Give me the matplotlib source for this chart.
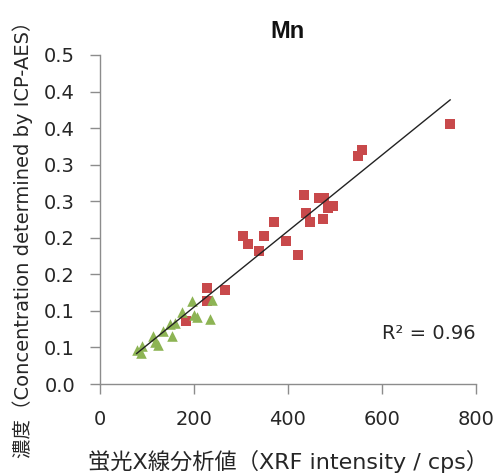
import numpy as np
import matplotlib
matplotlib.use('Agg')
import matplotlib.pyplot as plt

plt.rcParams['font.family'] = ['DejaVu Sans', 'Noto Sans CJK JP']

# red squares
red_x = [182, 227, 227, 267, 305, 314, 338, 348, 370, 396, 421, 433, 438, 446,
         466, 476, 486, 495, 474, 548, 557, 745]
red_y = [0.086, 0.131, 0.114, 0.128, 0.202, 0.191, 0.182, 0.203, 0.221, 0.195,
         0.176, 0.259, 0.234, 0.222, 0.254, 0.254, 0.241, 0.243, 0.225, 0.312,
         0.320, 0.356]

# green triangles
green_x = [78, 89, 88, 112, 118, 123, 133, 149, 153, 160, 175, 196, 200, 206, 235, 239]
green_y = [0.047, 0.052, 0.042, 0.065, 0.058, 0.054, 0.072, 0.082, 0.066, 0.084,
           0.099, 0.113, 0.095, 0.091, 0.089, 0.115]

# linear trend line
slope = 0.00052
intercept = 0.0012
r2_text = 'R² = 0.96'

y_ticks = [0, 0.05, 0.1, 0.15, 0.2, 0.25, 0.3, 0.35, 0.4, 0.45]
y_ticklabels = ['0.0', '0.1', '0.1', '0.2', '0.2', '0.3', '0.3', '0.4', '0.4', '0.5']
x_ticks = [0, 200, 400, 600, 800]

fig = plt.figure(figsize=(4.96, 4.75), dpi=100)
ax = fig.add_axes([100 / 496, 91 / 475, 376 / 496, 329 / 475])

ax.scatter(red_x, red_y, marker='s', s=46, color='#c8494b', linewidths=0, zorder=3)
ax.scatter(green_x, green_y, marker='^', s=58, color='#8db454', linewidths=0, zorder=3)

all_x = np.array(red_x + green_x)
lx = np.array([all_x.min(), all_x.max()])
ax.plot(lx, slope * lx + intercept, color='#222222', linewidth=1.0, zorder=4)

ax.set_xlim(0, 800)
ax.set_ylim(0, 0.45)
ax.set_xticks(x_ticks)
ax.set_yticks(y_ticks)
ax.set_yticklabels(y_ticklabels)

for s in ['top', 'right']:
    ax.spines[s].set_visible(False)
for s in ['left', 'bottom']:
    ax.spines[s].set_color('#8c8c8c')
    ax.spines[s].set_linewidth(1.0)
ax.tick_params(direction='out', length=7, width=1.0, color='#8c8c8c',
               labelsize=14, labelcolor='#262626')
ax.tick_params(axis='y', pad=11)
ax.tick_params(axis='x', pad=12)

ax.set_title('Mn', fontsize=17, fontweight='bold', color='#111111', pad=12,
             family=['Liberation Sans', 'DejaVu Sans'])

ax.set_xlabel('蛍光X線分析値（XRF intensity / cps）', fontsize=16, color='#262626',
              va='center')
ax.xaxis.set_label_coords(0.5, -0.235)
ax.set_ylabel('濃度（Concentration determined by ICP-AES）', fontsize=14,
              color='#262626', va='center')
ax.yaxis.set_label_coords(-0.205, 0.455)

ax.text(0.875, 0.152, r2_text, transform=ax.transAxes, fontsize=14,
        color='#262626', ha='center', va='center')

fig.savefig('out.png', dpi=100)
